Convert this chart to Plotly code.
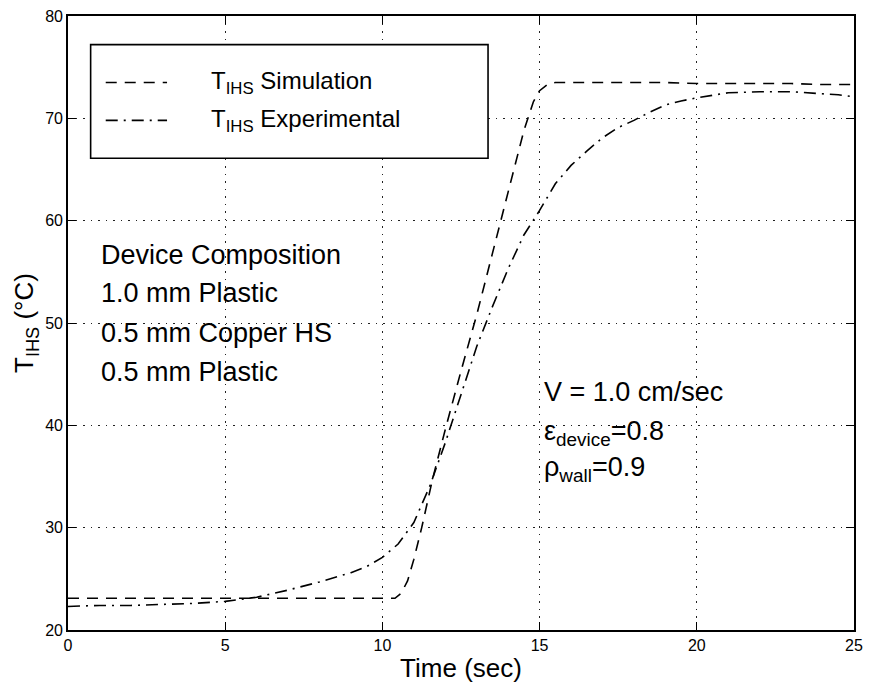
import plotly.graph_objects as go

# ---- data ----
sim_time = [0, 1, 2, 3, 4, 5, 6, 7, 8, 9, 10, 10.4, 10.6, 10.8, 11.0, 11.25, 11.6,
            12.0, 12.5, 13.0, 13.5, 14.0, 14.5, 14.8, 15.0, 15.25, 15.5, 16, 17,
            18, 19, 20, 21, 22, 23, 24, 25]
sim_temp = [23.1, 23.1, 23.1, 23.1, 23.1, 23.1, 23.1, 23.1, 23.1, 23.1, 23.1, 23.1,
            23.6, 24.8, 26.9, 30.0, 34.8, 39.6, 45.3, 50.8, 56.8, 62.8, 68.8, 71.6,
            72.7, 73.3, 73.5, 73.5, 73.5, 73.5, 73.5, 73.4, 73.4, 73.4, 73.4, 73.3,
            73.3]

exp_time = [0, 1, 2, 3, 4, 5, 6, 7, 8, 9, 9.5, 10, 10.5, 11, 11.5, 12, 12.5, 13,
            13.5, 14, 14.5, 15, 15.5, 16, 16.5, 17, 17.5, 18, 18.5, 19, 19.5, 20,
            21, 22, 23, 24, 24.5, 25]
exp_temp = [22.3, 22.4, 22.4, 22.5, 22.6, 22.8, 23.2, 23.9, 24.7, 25.6, 26.2, 27.1,
            28.4, 30.5, 34.0, 38.3, 43.0, 47.7, 51.6, 55.3, 58.6, 61.0, 63.6, 65.4,
            66.8, 68.1, 69.1, 69.8, 70.6, 71.3, 71.7, 72.0, 72.5, 72.6, 72.6, 72.4,
            72.3, 72.1]

x_ticks = [0, 5, 10, 15, 20, 25]
y_ticks = [20, 30, 40, 50, 60, 70, 80]

series_names = ["T<sub>IHS</sub> Simulation", "T<sub>IHS</sub> Experimental"]
composition_lines = ["Device Composition", "1.0 mm Plastic",
                     "0.5 mm Copper HS", "0.5 mm Plastic"]
condition_lines = ["V = 1.0 cm/sec", "ε<sub>device</sub>=0.8", "ρ<sub>wall</sub>=0.9"]

FONT = "Liberation Sans, Arial, Helvetica, sans-serif"
SIM_DASH = "11px,8px"
EXP_DASH = "12px,6px,2px,6px"

fig = go.Figure()
fig.add_trace(go.Scatter(x=sim_time, y=sim_temp, mode="lines", name=series_names[0],
                         line=dict(color="black", width=1.6, dash=SIM_DASH),
                         showlegend=False))
fig.add_trace(go.Scatter(x=exp_time, y=exp_temp, mode="lines", name=series_names[1],
                         line=dict(color="black", width=1.6, dash=EXP_DASH),
                         showlegend=False))

# legend box drawn by hand to match the original layout
fig.add_shape(type="rect", xref="x", yref="y", x0=0.72, x1=13.36, y0=66.1, y1=77.2,
              line=dict(color="black", width=1.6), fillcolor="white", layer="above")
for i, (dash, ypos) in enumerate([(SIM_DASH, 73.5), (EXP_DASH, 69.8)]):
    fig.add_shape(type="line", xref="x", yref="y", x0=1.2, x1=3.15, y0=ypos, y1=ypos,
                  line=dict(color="black", width=1.6, dash=dash), layer="above")
    fig.add_annotation(x=4.5, y=ypos, xref="x", yref="y", text=series_names[i],
                       showarrow=False, xanchor="left", yanchor="middle",
                       font=dict(family=FONT, size=24, color="black"))

for txt, ypos in zip(composition_lines, [56.6, 52.9, 49.0, 45.2]):
    fig.add_annotation(x=1.0, y=ypos, xref="x", yref="y", text=txt, showarrow=False,
                       xanchor="left", yanchor="middle",
                       font=dict(family=FONT, size=27, color="black"))

for txt, ypos in zip(condition_lines, [43.3, 39.3, 35.7]):
    fig.add_annotation(x=15.09, y=ypos, xref="x", yref="y", text=txt, showarrow=False,
                       xanchor="left", yanchor="middle",
                       font=dict(family=FONT, size=27, color="black"))

axis_common = dict(showline=True, linecolor="black", linewidth=1.6, mirror="ticks",
                   ticks="inside", ticklen=8, tickwidth=1.2, tickcolor="black",
                   showgrid=True, gridcolor="#222", gridwidth=1, griddash="1.5px,6px",
                   zeroline=False, tickfont=dict(family=FONT, size=16, color="black"))

fig.update_xaxes(range=[0, 25], tickvals=x_ticks, **axis_common,
                 title=dict(text="Time (sec)", font=dict(family=FONT, size=26, color="black"),
                            standoff=6))
fig.update_yaxes(range=[20, 80], tickvals=y_ticks, **axis_common,
                 title=dict(text="T<sub>IHS</sub> (°C)", font=dict(family=FONT, size=26, color="black"),
                            standoff=4))

fig.update_layout(width=871, height=690, margin=dict(l=68, r=8, t=12, b=60),
                  plot_bgcolor="white", paper_bgcolor="white",
                  font=dict(family=FONT, color="black"))

fig.write_html("out.html")
